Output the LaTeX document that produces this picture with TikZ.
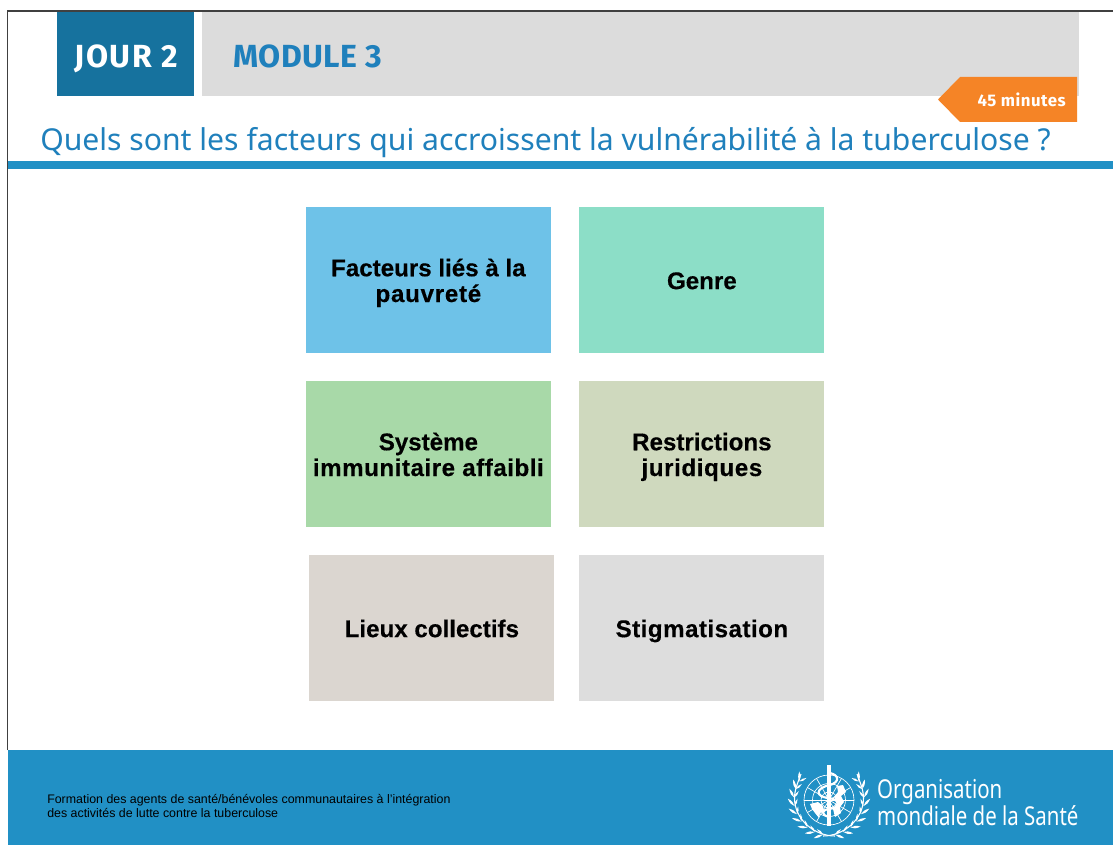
\documentclass[tikz,border=0pt]{standalone}
\usepackage{fontspec}
\setmainfont{Noto Sans}
\newfontfamily\headbold{Fira Sans}
\newfontfamily\boxfont{Liberation Sans}[BoldFeatures={FakeBold=0.35}]
\definecolor{whoblue}{HTML}{2190C5}
\definecolor{dayblue}{HTML}{16729E}
\definecolor{headgrey}{HTML}{DCDCDC}
\definecolor{titleblue}{HTML}{1F80BC}
\definecolor{clockorange}{HTML}{F58426}
\definecolor{fa}{HTML}{6EC2E8}
\definecolor{fb}{HTML}{8CDEC7}
\definecolor{fc}{HTML}{A8D9A8}
\definecolor{fd}{HTML}{CFD9BE}
\definecolor{fe}{HTML}{DBD6D0}
\definecolor{ff}{HTML}{DDDDDD}
\newcommand\topstrut{\rule{0pt}{17.2pt}}
\newcommand\botstrut{\rule[-3.9pt]{0pt}{3.9pt}}
\newcommand\spaced[2]{{\addfontfeature{LetterSpace=#1}#2}}
\tikzset{
  factor/.style={anchor=north west,inner sep=0pt,minimum width=183.9pt,minimum height=109.5pt,align=center,
     font=\boxfont\fontsize{18.1pt}{19.3pt}\selectfont\bfseries,text=black},
  grat/.style={draw=white,line width=0.5pt},
}
\begin{document}
\begin{tikzpicture}[x=0.75pt,y=-0.75pt]
\useasboundingbox (0,0) rectangle (1113,845);
\fill[white] (0,0) rectangle (1113,845);
\draw[line width=0.9pt,black!75] (7.5,750) -- (7.5,11) -- (1113,11);
% header
\node[fill=dayblue,anchor=north west,inner sep=0pt,minimum width=102.8pt,minimum height=63pt] (day) at (57,12) {};
\node[text=white,font=\headbold\fontsize{24pt}{26pt}\selectfont\bfseries,anchor=base,inner sep=0pt] (dayt) at (126,67.5) {\spaced{5}{JOUR 2}};
\node[fill=headgrey,anchor=north west,inner sep=0pt,minimum width=657.5pt,minimum height=63pt] (mod) at (202,12) {};
\node[text=titleblue,font=\headbold\fontsize{24pt}{26pt}\selectfont\bfseries,anchor=base west,inner sep=0pt] (modt) at (233.5,67.5) {\spaced{1}{MODULE 3}};
\fill[clockorange] (1077,77) -- (960,77) -- (938,99.5) -- (960,122) -- (1077,122) -- cycle;
\node[text=white,font=\headbold\fontsize{12.6pt}{14pt}\selectfont\bfseries,anchor=base east,inner sep=0pt] (mins) at (1066,107) {\spaced{3}{45 minutes}};
\node[text=titleblue,font=\fontsize{22.6pt}{26pt}\selectfont,anchor=base west,inner sep=0pt] (title) at (40,151) {Quels sont les facteurs qui accroissent la vulnérabilité à la tuberculose ?};
\fill[whoblue] (8,161) rectangle (1113,169);
% boxes
\node[factor,fill=fa] (a) at (305.5,207) {\topstrut Facteurs liés à la\\\botstrut \spaced{3}{pauvreté}};
\node[factor,fill=fb] (b) at (579,207) {\topstrut\botstrut Genre};
\node[factor,fill=fc] (c) at (305.5,381) {\topstrut Système\\\botstrut \spaced{2.2}{immunitaire affaibli}};
\node[factor,fill=fd] (d) at (579,381) {\topstrut Restrictions\\\botstrut \spaced{2.5}{juridiques}};
\node[factor,fill=fe] (e) at (309,555) {\topstrut\botstrut Lieux collectifs};
\node[factor,fill=ff] (f) at (579,555) {\topstrut\botstrut \spaced{2}{Stigmatisation}};
% footer
\fill[whoblue] (8,750) rectangle (1113,845);
\node[anchor=base west,inner sep=0pt,text=black,font=\boxfont\fontsize{9.3pt}{10.5pt}\selectfont] (foot1) at (47,803) {Formation des agents de santé/bénévoles communautaires à l’intégration};
\node[anchor=base west,inner sep=0pt,text=black,font=\boxfont\fontsize{9.3pt}{10.5pt}\selectfont] (foot2) at (47,817) {des activités de lutte contre la tuberculose};
% logo
\begin{scope}[shift={(829,800)}]
  \draw[grat] (0,0) circle (25);
  \draw[grat] (0,0) circle (16.5);
  \draw[grat] (0,0) circle (8);
  \draw[grat] (-25,0) -- (25,0);
  \draw[grat] (-21.6,-12.5) -- (21.6,12.5);
  \draw[grat] (-21.6,12.5) -- (21.6,-12.5);
  \draw[grat] (-12.5,-21.6) -- (12.5,21.6);
  \draw[grat] (12.5,-21.6) -- (-12.5,21.6);
  % continents
  \fill[white] (-19,4) -- (-11,2) -- (-6,6) -- (-5,11) -- (-9,13) -- (-10,18) -- (-14,13) -- (-17,9) -- cycle;
  \fill[white] (8,-14) -- (14,-15) -- (17,-8) -- (12,-4) -- (15,2) -- (11,7) -- (12,13) -- (6,17) -- (4,9) -- (8,3) -- (5,-3) -- (9,-8) -- cycle;
  % staff and snake
  \fill[white] (-1.6,-35) -- (1.6,-35) -- (1.6,26) -- (-1.6,26) -- cycle;
  \draw[white,line width=1.6pt] (1,-27) .. controls (10,-25) and (11,-18) .. (1,-15) .. controls (-14,-12) and (-14,-3) .. (0,-2) .. controls (12,0) and (12,8) .. (0,9) .. controls (-8,10) and (-8,15) .. (0,17);
  % wreath
  \foreach \s in {1,-1}{
    \begin{scope}[xscale=\s]
      \draw[white,line width=0.8pt] (6,36) .. controls (-14,36) and (-34.5,20) .. (-34.5,-2) .. controls (-34.5,-10) and (-31,-18) .. (-28,-26);
      \foreach \a in {100,114,128,142,156,170,184,198,212}{
        \begin{scope}[shift={(\a:35)}]
          \fill[white,rotate=-\a-90+32] (0,0) .. controls (2.5,-1.6) and (6,-1.6) .. (10,0) .. controls (6,1.6) and (2.5,1.6) .. (0,0);
          \fill[white,rotate=-\a-90-32] (0,0) .. controls (2.5,-1.4) and (5,-1.4) .. (8,0) .. controls (5,1.4) and (2.5,1.4) .. (0,0);
        \end{scope}
      }
    \end{scope}
  }
\end{scope}
\node[anchor=base west,inner sep=0pt,text=white,font=\fontsize{19.5pt}{22pt}\selectfont,xscale=0.786,transform shape] (who1) at (877,798) {Organisation};
\node[anchor=base west,inner sep=0pt,text=white,font=\fontsize{19.5pt}{22pt}\selectfont,xscale=0.786,transform shape] (who2) at (877,825) {mondiale de la Santé};
\end{tikzpicture}
\end{document}
